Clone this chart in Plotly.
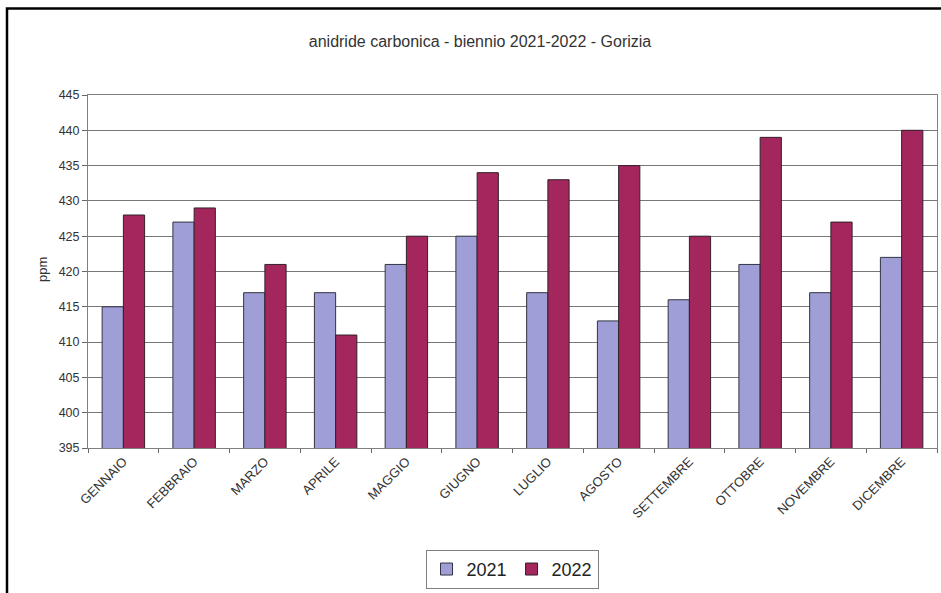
import plotly.graph_objects as go

months = ["GENNAIO", "FEBBRAIO", "MARZO", "APRILE", "MAGGIO", "GIUGNO",
          "LUGLIO", "AGOSTO", "SETTEMBRE", "OTTOBRE", "NOVEMBRE", "DICEMBRE"]
co2_2021 = [415, 427, 417, 417, 421, 425, 417, 413, 416, 421, 417, 422]
co2_2022 = [428, 429, 421, 411, 425, 434, 433, 435, 425, 439, 427, 440]
y_ticks = [395, 400, 405, 410, 415, 420, 425, 430, 435, 440, 445]

W, H = 941, 593
L, R, T, B = 88, 4, 95, 141
pw, ph = W - L - R, H - T - B

def px(x):
    return (x - L) / pw

def py(y):
    return (H - B - y) / ph

FONT = "Liberation Sans, Arial, sans-serif"

fig = go.Figure()
fig.add_trace(go.Bar(name="2021", x=months, y=co2_2021,
                     marker=dict(color="#9f9ed6", line=dict(color="#333344", width=1))))
fig.add_trace(go.Bar(name="2022", x=months, y=co2_2022,
                     marker=dict(color="#a3265c", line=dict(color="#33202a", width=1))))

fig.update_layout(
    width=W, height=H,
    margin=dict(l=L, r=R, t=T, b=B),
    paper_bgcolor="white", plot_bgcolor="white",
    barmode="group", bargap=0.40, bargroupgap=0.0,
    font=dict(family=FONT, color="#333333", size=12),
    title=dict(text="anidride carbonica - biennio 2021-2022 - Gorizia",
               x=480 / W, xref="container", xanchor="center",
               y=1 - 41 / H, yref="container", yanchor="middle",
               font=dict(size=16, color="#333333")),
    showlegend=True,
    legend=dict(orientation="h", x=px(512), xanchor="center",
                y=py(555), yanchor="top",
                bordercolor="#808080", borderwidth=1,
                font=dict(size=18, color="#222222"),
                itemwidth=30, tracegroupgap=0),
)

fig.update_xaxes(
    type="category", tickangle=-45, tickson="boundaries",
    ticks="outside", ticklen=4, tickcolor="#666666",
    showline=True, linecolor="#808080", linewidth=1, mirror=True,
    showgrid=False, tickfont=dict(size=13, color="#333333"),
)
fig.update_yaxes(
    range=[395, 445], tickvals=y_ticks, ticktext=[str(v) for v in y_ticks],
    ticks="outside", ticklen=5, tickcolor="#666666",
    showline=True, linecolor="#808080", linewidth=1, mirror=True,
    showgrid=True, gridcolor="#777777", gridwidth=1,
    tickfont=dict(size=12.5, color="#333333"),
    zeroline=False,
)

fig.add_annotation(text="ppm", x=px(42), y=py(272), xref="paper", yref="paper",
                   xanchor="center", yanchor="middle",
                   textangle=-90, showarrow=False, font=dict(size=13, color="#333333"))

# outer frame (left and top edges visible, others cropped)
fig.add_shape(type="rect", xref="paper", yref="paper",
              x0=px(7), y0=py(650), x1=px(1000), y1=py(7.5),
              line=dict(color="black", width=2.5), layer="above")

fig.write_html("out.html")
